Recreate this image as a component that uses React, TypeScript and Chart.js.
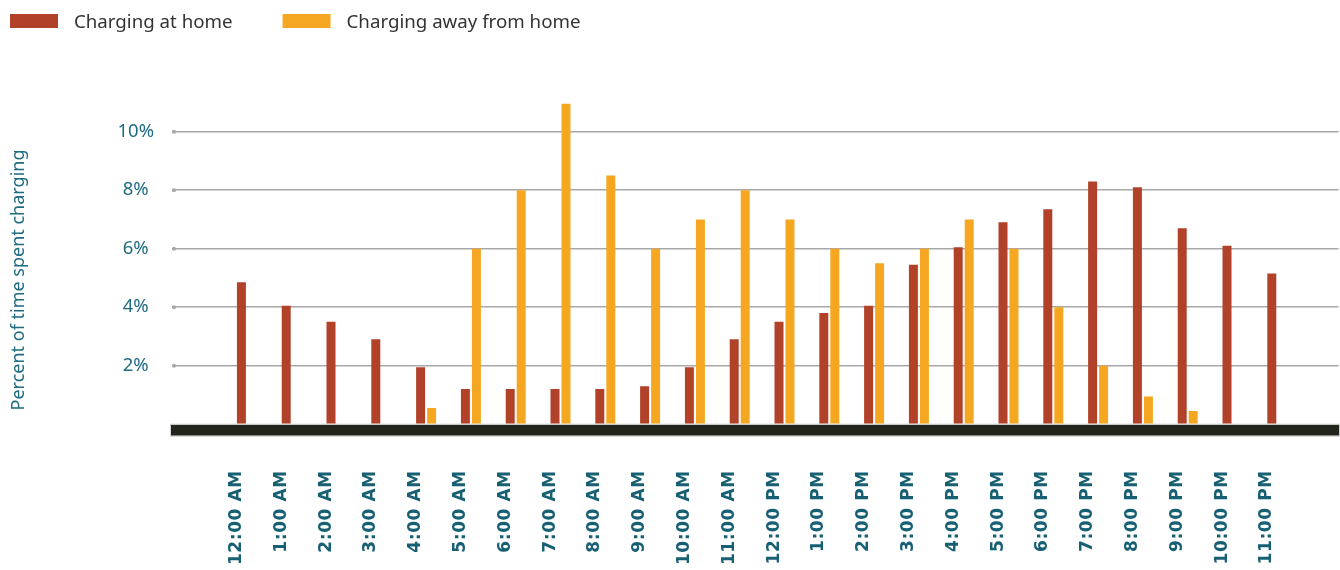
import React, { useEffect, useRef } from "react";
import { Chart, registerables } from "chart.js";

Chart.register(...registerables);

const hourLabels = [
  "12:00 AM", "1:00 AM", "2:00 AM", "3:00 AM", "4:00 AM", "5:00 AM",
  "6:00 AM", "7:00 AM", "8:00 AM", "9:00 AM", "10:00 AM", "11:00 AM",
  "12:00 PM", "1:00 PM", "2:00 PM", "3:00 PM", "4:00 PM", "5:00 PM",
  "6:00 PM", "7:00 PM", "8:00 PM", "9:00 PM", "10:00 PM", "11:00 PM",
];

const homeValues = [
  4.85, 4.05, 3.5, 2.9, 1.95, 1.2, 1.2, 1.2, 1.2, 1.3, 1.95, 2.9,
  3.5, 3.8, 4.05, 5.45, 6.05, 6.9, 7.35, 8.3, 8.1, 6.7, 6.1, 5.15,
];

const awayValues: (number | null)[] = [
  null, null, null, null, 0.55, 6.0, 8.0, 10.95, 8.5, 6.0, 7.0, 8.0,
  7.0, 6.0, 5.5, 6.0, 7.0, 6.0, 4.0, 2.0, 0.95, 0.45, null, null,
];

const yTickValues = [2, 4, 6, 8, 10];

const seriesNames = ["Charging at home", "Charging away from home"];
const seriesColors = ["#b2412a", "#f6a722"];

const TEAL = "#1f6b80";
const SANS = "'Noto Sans', sans-serif";

const decorPlugin = {
  id: "decor",
  beforeDraw(chart: any) {
    const sx: any = chart.scales.x;
    if (sx && !sx.__ls) {
      const orig = sx.drawLabels;
      sx.drawLabels = function (area: any) {
        const c: any = this.ctx;
        const prev = c.letterSpacing;
        c.letterSpacing = "0.6px";
        orig.call(this, area);
        c.letterSpacing = prev || "0px";
      };
      sx.__ls = true;
    }
  },
  beforeDatasetsDraw(chart: any) {
    const { ctx, chartArea, scales } = chart;
    const y = scales.y;
    ctx.save();
    ctx.fillStyle = "#a8a8a8";
    yTickValues.forEach((v) => {
      const py = y.getPixelForValue(v);
      ctx.beginPath();
      ctx.arc(chartArea.left + 2, py, 2, 0, Math.PI * 2);
      ctx.fill();
    });
    const zero = y.getPixelForValue(0);
    ctx.fillStyle = "#21251b";
    ctx.fillRect(chartArea.left - 1, zero + 0.5, chartArea.right - chartArea.left + 1.5, 11);
    ctx.strokeStyle = "#cfcfcf";
    ctx.lineWidth = 1;
    ctx.strokeRect(chartArea.left - 1.5, zero, chartArea.right - chartArea.left + 2.5, 12);
    ctx.restore();
  },
  afterDraw(chart: any) {
    const { ctx } = chart;
    ctx.save();
    ctx.font = `18.7px ${SANS}`;
    ctx.textBaseline = "alphabetic";
    ctx.textAlign = "left";
    let x = 10;
    chart.data.datasets.forEach((ds: any) => {
      ctx.fillStyle = ds.backgroundColor;
      ctx.fillRect(x, 14, 48, 14);
      ctx.fillStyle = "#333333";
      ctx.fillText(ds.label, x + 64, 28);
      x += 64 + ctx.measureText(ds.label).width + 50;
    });
    ctx.translate(19, 280);
    ctx.rotate(-Math.PI / 2);
    ctx.textAlign = "center";
    ctx.textBaseline = "middle";
    ctx.fillStyle = TEAL;
    ctx.font = `18px ${SANS}`;
    ctx.fillText("Percent of time spent charging", 0, 0);
    ctx.restore();
  },
};

export default function App() {
  const canvasRef = useRef<HTMLCanvasElement>(null);

  useEffect(() => {
    if (!canvasRef.current) return;
    const chart = new Chart(canvasRef.current, {
      type: "bar",
      data: {
        datasets: [
          {
            label: seriesNames[0],
            data: homeValues.map((v, i) => ({ x: i, y: v })),
            backgroundColor: seriesColors[0],
            categoryPercentage: 0.491,
            barPercentage: 0.818,
          },
          {
            label: seriesNames[1],
            data: awayValues.map((v, i) => ({ x: i, y: v })),
            backgroundColor: seriesColors[1],
            categoryPercentage: 0.491,
            barPercentage: 0.818,
          },
        ],
      },
      options: {
        animation: false,
        responsive: false,
        layout: { padding: { top: 102.4, right: 1.5, bottom: 0, left: 0 } },
        plugins: {
          legend: { display: false },
          tooltip: { enabled: false },
        },
        scales: {
          x: {
            type: "linear",
            offset: false,
            min: -1.672,
            max: 24.366,
            grid: { display: false },
            border: { display: false },
            afterBuildTicks: (scale: any) => {
              scale.ticks = hourLabels.map((_, i) => ({ value: i - 0.23 }));
            },
            afterFit: (scale: any) => {
              scale.height = 145.8;
            },
            ticks: {
              autoSkip: false,
              maxRotation: 90,
              minRotation: 90,
              padding: 38,
              color: "#175f73",
              font: { family: "'DejaVu Sans', sans-serif", size: 17, weight: "bold" },
              callback: (v: any) => hourLabels[Math.round(Number(v))] ?? "",
            },
          },
          y: {
            min: 0,
            max: 11,
            afterFit: (scale: any) => {
              scale.width = 172;
            },
            afterBuildTicks: (scale: any) => {
              scale.ticks = [0, ...yTickValues].map((v) => ({ value: v }));
            },
            grid: {
              drawTicks: false,
              lineWidth: 1.5,
              color: (ctx: any) => (ctx.tick && ctx.tick.value === 0 ? "rgba(0,0,0,0)" : "#a8a8a8"),
            },
            border: { display: false },
            ticks: {
              padding: 18,
              crossAlign: "center",
              color: TEAL,
              font: { family: SANS, size: 18.5 },
              callback: (v: any) => (Number(v) === 0 ? "" : `${v}%`),
            },
          },
        },
      } as any,
      plugins: [decorPlugin],
    });
    return () => chart.destroy();
  }, []);

  return (
    <div style={{ position: "absolute", left: 0, top: 0, width: 1340, height: 570, background: "#ffffff" }}>
      <canvas ref={canvasRef} width={1340} height={570} style={{ display: "block" }} />
    </div>
  );
}
